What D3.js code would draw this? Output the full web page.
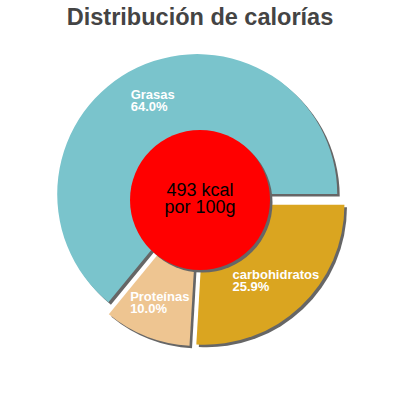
<!DOCTYPE html>
<html>

<head>
    <meta charset="utf-8">
    <title>Distribución de calorías</title>
    <script src="https://cdn.jsdelivr.net/npm/d3@7"></script>
    <style>
        body { margin: 0; background: #fff; }
        svg { display: block; font-family: Arial, "Liberation Sans", sans-serif; }
    </style>
</head>

<body>
    <div id="chart"></div>
    <script>
        // Datos del gráfico
        const categories = ["carbohidratos", "Proteínas", "Grasas"];
        const percents = [25.9, 10.0, 64.0];
        const colors = ["#DAA520", "#EEC591", "#7AC4CC"];
        const centerLines = ["493 kcal", "por 100g"];
        const titleText = "Distribución de calorías";

        // Tamaño y geometría
        const width = 400, height = 400;
        const cx = 200, cy = 200;
        const radius = 140;
        const explode = 6.5;      // separación de cada porción
        const shadowOff = 2.5;    // desplazamiento de la sombra
        const labelRadius = 104;
        const holeRadius = 70;

        const data = categories.map((c, i) => ({ name: c, value: percents[i], color: colors[i] }));

        const svg = d3.select("#chart")
            .append("svg")
            .attr("width", width)
            .attr("height", height);

        svg.append("text")
            .attr("x", width / 2)
            .attr("y", 25)
            .attr("text-anchor", "middle")
            .attr("font-size", "23.5px")
            .attr("font-weight", "bold")
            .attr("fill", "#444")
            .text(titleText);

        // Empieza a las 3 en punto, sentido horario
        const pie = d3.pie()
            .value(d => d.value)
            .sort(null)
            .startAngle(Math.PI / 2)
            .endAngle(Math.PI / 2 + 2 * Math.PI);

        const arcs = pie(data);
        const arc = d3.arc().innerRadius(0).outerRadius(radius);
        const labelArc = d3.arc().innerRadius(labelRadius).outerRadius(labelRadius);

        const shift = d => {
            const a = (d.startAngle + d.endAngle) / 2;
            return [Math.sin(a) * explode, -Math.cos(a) * explode];
        };

        // sombras primero
        svg.append("g")
            .selectAll("path")
            .data(arcs)
            .enter()
            .append("path")
            .attr("transform", d => "translate(" + (cx + shift(d)[0] + shadowOff) + "," + (cy + shift(d)[1] + shadowOff) + ")")
            .attr("d", arc)
            .attr("fill", "#666");

        const slices = svg.append("g")
            .selectAll("g")
            .data(arcs)
            .enter()
            .append("g")
            .attr("transform", d => "translate(" + (cx + shift(d)[0]) + "," + (cy + shift(d)[1]) + ")");

        slices.append("path")
            .attr("d", arc)
            .attr("fill", d => d.data.color);

        // círculo central con sombra
        svg.append("circle")
            .attr("cx", cx + shadowOff)
            .attr("cy", cy + shadowOff)
            .attr("r", holeRadius)
            .attr("fill", "#666");

        svg.append("circle")
            .attr("cx", cx)
            .attr("cy", cy)
            .attr("r", holeRadius)
            .attr("fill", "#FF0000");

        svg.append("text")
            .attr("text-anchor", "middle")
            .attr("font-size", "18px")
            .attr("fill", "#000")
            .selectAll("tspan")
            .data(centerLines)
            .enter()
            .append("tspan")
            .attr("x", cx)
            .attr("y", (d, i) => cy + (i - 0.5) * 17 + 4.5)
            .text(d => d);

        // etiquetas de las porciones
        slices.each(function (d) {
            const c = labelArc.centroid(d);
            const t = d3.select(this).append("text")
                .attr("font-size", "13px")
                .attr("font-weight", "bold")
                .attr("fill", "#fff");
            t.append("tspan").attr("x", 0).attr("y", 0).text(d.data.name);
            t.append("tspan").attr("x", 0).attr("y", 12).text(d.data.value.toFixed(1) + "%");
            const b = t.node().getBBox();
            t.attr("transform", "translate(" + (c[0] - b.x - b.width / 2) + "," + (c[1] - b.y - b.height / 2) + ")");
        });
    </script>
</body>

</html>
